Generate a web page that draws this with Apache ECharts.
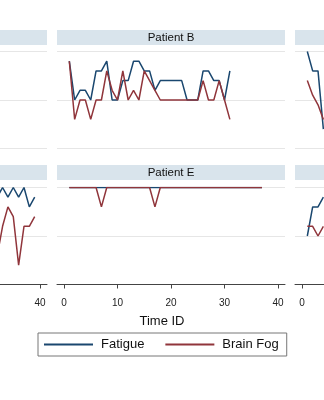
<!DOCTYPE html>
<html><head><meta charset="utf-8">
<script src="https://cdn.jsdelivr.net/npm/echarts@6/dist/echarts.min.js"></script>
<style>html,body{margin:0;padding:0;background:#fff}#c{width:324px;height:400px}</style>
</head><body><div id="c"></div>
<script>
// ---- data ----
const patients = ['Patient A', 'Patient B', 'Patient C', 'Patient D', 'Patient E', 'Patient F'];
const seriesNames = ['Fatigue', 'Brain Fog'];
const xTicks = [0, 10, 20, 30, 40];

const timeA = [];
const fatigueA = [];
const fogA = [];

const timeB = [1,2,3,4,5,6,7,8,9,10,11,12,13,14,15,16,17,18,19,20,21,22,23,24,25,26,27,28,29,30,31];
const fatigueB = [9,5,6,6,5,8,8,9,5,5,7,7,9,9,8,8,6,7,7,7,7,7,5,5,5,8,8,7,7,5,8];
const fogB     = [9,3,5,5,3,5,5,8,6,5,8,5,6,5,8,7,6,5,5,5,5,5,5,5,5,7,5,5,7,5,3];

const timeC = [1,2,3,4];
const fatigueC = [10,8,8,2];
const fogC     = [7,5.5,4.5,3];

const timeD = [32,33,34,35,36,37,38,39];
const fatigueD = [9,10,9,10,9,10,8,9];
const fogD     = [3,6,8,7,2,6,6,7];

const timeE = [1,2,3,4,5,6,7,8,9,10,11,12,13,14,15,16,17,18,19,20,21,22,23,24,25,26,27,28,29,30,31,32,33,34,35,36,37];
const fatigueE = [10,10,10,10,10,10,10,10,10,10,10,10,10,10,10,10,10,10,10,10,10,10,10,10,10,10,10,10,10,10,10,10,10,10,10,10,10];
const fogE     = [10,10,10,10,10,10,8,10,10,10,10,10,10,10,10,10,8,10,10,10,10,10,10,10,10,10,10,10,10,10,10,10,10,10,10,10,10];

const timeF = [1,2,3,4];
const fatigueF = [5,8,8,9];
const fogF     = [6,6,5,6];

// ---- layout ----
const times = [timeA, timeB, timeC, timeD, timeE, timeF];
const fatigue = [fatigueA, fatigueB, fatigueC, fatigueD, fatigueE, fatigueF];
const fog = [fogA, fogB, fogC, fogD, fogE, fogF];
const colLeft = [-181, 57, 295];
const panelW = 228;
const plotTop = [51.5, 187.5];
const plotH = 97;
const headTop = [30, 165];
const headH = 15;
const colors = ['#1a476f', '#90353b'];

const grids = [], xAxes = [], yAxes = [], series = [], graphics = [];
for (let i = 0; i < 6; i++) {
  const r = Math.floor(i / 3), c = i % 3;
  grids.push({left: colLeft[c], top: plotTop[r], width: panelW, height: plotH,
    containLabel: false, outerBoundsMode: 'none'});
  const bottom = r === 1;
  xAxes.push({
    type: 'value', gridIndex: i, min: -1.3, max: 41.3, show: bottom, offset: 7,
    axisLine: {show: true, lineStyle: {color: '#444', width: 1}},
    axisTick: {show: true, length: 4, customValues: xTicks, lineStyle: {color: '#444'}},
    axisLabel: {show: true, customValues: xTicks, fontSize: 10, color: '#222', margin: 7,
      fontFamily: 'Liberation Sans, Arial', hideOverlap: false},
    splitLine: {show: false}
  });
  yAxes.push({
    type: 'value', gridIndex: i, min: 0, max: 10, interval: 5,
    axisLine: {show: false}, axisTick: {show: false}, axisLabel: {show: false},
    splitLine: {show: true, lineStyle: {color: '#e6e6e6', width: 1}}
  });
  const vals = [fatigue[i], fog[i]];
  for (let s = 0; s < 2; s++) {
    series.push({
      name: seriesNames[s], type: 'line', xAxisIndex: i, yAxisIndex: i,
      data: times[i].map((t, k) => [t, vals[s][k]]),
      symbol: 'none', color: colors[s], lineStyle: {color: colors[s], width: 1.5},
      z: 2 + s, animation: false
    });
  }
  graphics.push({type: 'rect', shape: {x: colLeft[c], y: headTop[r], width: panelW, height: headH},
    style: {fill: '#d9e4ec'}, silent: true});
  graphics.push({type: 'text', x: colLeft[c] + panelW / 2, y: headTop[r] + headH / 2,
    style: {text: patients[i], textAlign: 'center', textVerticalAlign: 'middle', fontSize: 11.5,
      fill: '#111', fontFamily: 'Liberation Sans, Arial'}});
}
graphics.push({type: 'text', x: 162, y: 321,
  style: {text: 'Time ID', textAlign: 'center', textVerticalAlign: 'middle', fontSize: 13,
    fill: '#111', fontFamily: 'Liberation Sans, Arial'}});

const chart = echarts.init(document.getElementById('c'), null, {renderer: 'canvas'});
chart.setOption({
  backgroundColor: '#fff',
  animation: false,
  grid: grids, xAxis: xAxes, yAxis: yAxes, series: series, graphic: graphics,
  legend: {
    left: 38, top: 333, orient: 'horizontal', icon: 'rect', itemWidth: 49, itemHeight: 2,
    itemGap: 21, padding: [5, 8, 5, 6], borderColor: '#777', borderWidth: 1,
    data: seriesNames, selectedMode: false,
    textStyle: {fontSize: 13, color: '#111', fontFamily: 'Liberation Sans, Arial', padding: [0, 0, 0, 3]}
  }
});
</script></body></html>
